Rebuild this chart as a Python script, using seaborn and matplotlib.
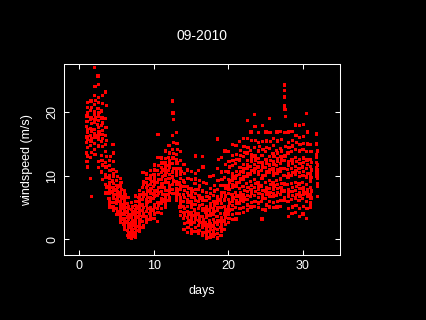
import numpy as np
import pandas as pd
import matplotlib
matplotlib.use("Agg")
import matplotlib.pyplot as plt
import seaborn as sns

title = "09-2010"
x_label = "days"
y_label = "windspeed (m/s)"
x_ticks = [0, 10, 20, 30]
y_ticks = [0, 10, 20]

# start of each measurement burst (days), samples inside a burst are 15 min apart
burst_day = list(np.arange(1.0, 31.5, 0.5)) + [31.85]

# wind speed (m/s), one list per burst
burst_speeds = [
    [15.2, 17.8, 13.6, 19.4, 16.1, 12.3, 18.5, 20.7, 14.4, 16.9, 11.4, 21.6, 17.2, 15.7, 19.9, 13.1],  # 1.0
    [16.4, 18.9, 14.8, 20.3, 17.5, 12.9, 9.6, 21.8, 15.5, 19.1, 13.7, 17.0, 6.7, 18.2, 15.9, 20.8],
    [17.3, 19.6, 15.1, 21.2, 27.0, 18.4, 14.2, 22.7, 16.6, 20.1, 24.1, 13.4, 18.9, 16.0, 21.9, 19.2],  # 2.0
    [18.1, 20.6, 16.3, 25.7, 14.7, 21.5, 17.6, 24.4, 12.2, 19.4, 15.8, 22.3, 11.3, 18.7, 20.0, 16.9],
    [15.4, 17.9, 13.2, 20.2, 10.6, 16.5, 19.1, 12.4, 21.4, 14.6, 9.4, 18.3, 15.9, 11.7, 17.1, 22.6],  # 3.0
    [13.8, 10.2, 16.4, 8.6, 19.0, 12.1, 23.2, 14.9, 7.3, 11.4, 17.6, 9.7, 21.1, 13.0, 15.6, 8.1],
    [8.3, 6.4, 10.1, 7.2, 11.6, 5.5, 9.0, 12.4, 7.8, 6.0, 9.6, 8.7, 10.8, 5.1, 7.5, 13.0],  # 4.0
    [7.4, 9.2, 5.8, 11.0, 8.1, 14.9, 6.5, 10.4, 4.6, 12.3, 8.8, 7.0, 9.9, 5.2, 13.6, 7.7],
    [6.2, 7.9, 4.8, 9.3, 5.6, 10.7, 7.1, 3.9, 8.5, 6.7, 9.9, 4.3, 7.5, 5.9, 8.2, 6.4],  # 5.0
    [5.1, 6.8, 3.7, 8.4, 4.5, 9.6, 6.0, 2.6, 7.3, 5.5, 3.2, 8.9, 4.1, 6.5, 7.8, 4.8],
    [3.9, 5.4, 2.4, 6.7, 4.6, 1.6, 7.6, 3.3, 5.9, 2.0, 4.2, 6.3, 3.0, 5.0, 7.1, 2.7],  # 6.0
    [2.8, 4.3, 1.4, 5.6, 3.5, 0.6, 6.6, 2.1, 4.9, 1.0, 3.1, 5.2, 0.3, 2.5, 3.9, 1.8],
    [1.9, 3.4, 0.8, 4.7, 2.6, 0.2, 5.8, 1.3, 3.9, 0.5, 2.2, 4.3, 1.6, 3.0, 5.1, 0.9],  # 7.0
    [2.5, 4.0, 1.1, 5.3, 3.2, 0.3, 6.8, 1.7, 4.6, 0.7, 2.9, 5.9, 2.0, 3.6, 1.4, 4.9],
    [3.4, 5.1, 2.0, 6.6, 4.2, 1.2, 7.7, 2.7, 5.7, 1.6, 3.8, 6.2, 2.4, 4.7, 7.1, 3.1],  # 8.0
    [4.5, 6.3, 2.8, 8.2, 5.4, 1.8, 10.5, 3.6, 7.3, 2.2, 5.0, 9.1, 3.9, 6.8, 8.7, 4.1],
    [5.3, 7.1, 3.6, 9.0, 6.2, 2.7, 10.3, 4.4, 8.1, 3.1, 5.8, 9.6, 4.8, 7.6, 6.6, 8.5],  # 9.0
    [5.9, 7.7, 4.1, 9.5, 6.6, 3.2, 10.8, 5.0, 8.6, 3.6, 6.3, 10.1, 4.6, 8.0, 7.2, 9.1],
    [6.4, 8.3, 4.6, 10.2, 7.1, 3.3, 11.7, 5.5, 9.3, 4.0, 6.8, 10.9, 5.1, 8.7, 7.6, 9.8],  # 10.0
    [6.9, 8.9, 4.9, 10.8, 7.6, 2.8, 12.9, 5.8, 16.5, 4.2, 7.3, 11.6, 5.4, 9.4, 8.1, 10.2],
    [7.5, 9.4, 5.6, 11.3, 8.2, 4.1, 12.8, 6.4, 10.5, 4.9, 8.7, 12.0, 6.0, 9.9, 7.1, 10.9],  # 11.0
    [8.1, 10.0, 6.2, 12.0, 8.9, 5.1, 13.9, 7.0, 11.2, 5.6, 9.4, 12.7, 6.6, 10.6, 7.7, 11.6],
    [8.9, 10.8, 7.0, 12.9, 9.6, 6.1, 14.8, 7.8, 11.9, 6.5, 10.2, 13.6, 7.4, 11.4, 8.4, 12.4],  # 12.0
    [9.8, 11.9, 7.9, 14.2, 10.6, 21.8, 16.3, 8.6, 19.9, 7.2, 12.8, 18.9, 9.2, 13.5, 15.2, 11.1],
    [9.1, 11.2, 7.2, 13.4, 10.0, 6.2, 16.8, 8.0, 12.5, 6.7, 10.6, 15.1, 7.6, 12.0, 8.6, 14.2],  # 13.0
    [7.0, 9.0, 5.1, 11.1, 7.9, 3.7, 13.8, 6.0, 10.2, 4.4, 8.4, 12.4, 5.6, 9.6, 6.5, 10.7],
    [5.2, 7.1, 3.3, 9.2, 6.0, 1.6, 11.8, 4.2, 8.3, 2.5, 6.6, 10.4, 3.8, 7.7, 4.8, 8.9],  # 14.0
    [4.4, 6.3, 2.6, 8.3, 5.2, 1.1, 10.9, 3.4, 7.4, 1.8, 5.8, 9.6, 3.0, 6.9, 4.0, 8.0],
    [4.2, 6.0, 2.4, 8.0, 5.0, 1.0, 10.7, 3.2, 7.1, 1.6, 5.5, 9.4, 2.8, 6.6, 3.8, 7.6],  # 15.0
    [4.6, 6.6, 2.7, 8.8, 5.5, 1.2, 13.1, 3.5, 7.8, 1.9, 6.1, 10.4, 3.1, 7.2, 4.1, 9.5],
    [4.0, 5.9, 2.2, 7.9, 4.8, 0.9, 10.8, 3.0, 6.9, 1.4, 5.3, 9.3, 2.6, 6.4, 3.5, 8.4],  # 16.0
    [3.6, 5.5, 1.8, 7.6, 4.5, 0.6, 13.0, 2.6, 6.6, 1.1, 4.9, 11.4, 2.2, 6.1, 3.1, 9.0],
    [2.7, 4.3, 1.1, 6.1, 3.4, 0.2, 8.8, 1.8, 5.2, 0.6, 3.8, 7.4, 1.4, 4.8, 2.3, 6.7],  # 17.0
    [2.9, 4.6, 1.2, 6.5, 3.7, 0.3, 9.9, 2.0, 5.6, 0.7, 4.1, 8.0, 1.6, 5.1, 2.5, 7.2],
    [3.1, 4.9, 1.3, 6.9, 3.9, 0.4, 10.1, 2.1, 5.9, 0.8, 4.4, 8.5, 1.7, 5.4, 2.6, 7.6],  # 18.0
    [3.6, 5.6, 1.5, 7.8, 4.5, 0.2, 15.8, 2.4, 6.7, 0.9, 5.0, 11.2, 9.3, 6.2, 2.9, 12.6],
    [4.1, 6.2, 1.9, 8.5, 5.0, 0.6, 12.9, 2.9, 7.3, 1.3, 5.6, 10.6, 2.4, 6.8, 3.4, 9.4],  # 19.0
    [5.2, 7.4, 2.9, 9.7, 6.2, 1.6, 13.9, 4.0, 8.5, 2.3, 6.8, 11.8, 3.5, 8.0, 4.6, 10.7],
    [6.3, 8.4, 4.0, 10.6, 7.2, 2.6, 13.8, 5.1, 9.4, 3.3, 7.8, 12.3, 4.6, 8.9, 5.7, 11.4],  # 20.0
    [7.1, 9.3, 4.7, 11.6, 8.1, 3.1, 14.9, 5.9, 10.4, 3.9, 8.6, 13.2, 5.3, 9.8, 6.5, 12.4],
    [7.4, 9.6, 5.0, 11.9, 8.4, 3.2, 14.8, 6.1, 10.7, 4.1, 8.9, 13.4, 5.6, 10.1, 6.8, 12.6],  # 21.0
    [8.0, 10.2, 5.7, 12.5, 9.0, 4.1, 15.4, 6.8, 11.3, 4.8, 9.5, 14.0, 6.2, 10.7, 7.4, 13.2],
    [8.3, 10.6, 5.9, 13.0, 9.4, 4.2, 15.9, 7.1, 11.8, 5.0, 9.9, 14.6, 6.5, 11.2, 7.7, 13.7],  # 22.0
    [8.8, 11.1, 6.3, 13.6, 9.9, 4.6, 18.7, 7.5, 12.4, 5.4, 10.4, 15.9, 6.9, 11.7, 8.1, 14.5],
    [9.1, 11.5, 6.7, 14.0, 10.3, 5.1, 16.9, 7.9, 12.8, 5.8, 10.8, 15.6, 7.3, 12.2, 8.5, 13.3],  # 23.0
    [9.4, 11.8, 6.9, 14.4, 10.6, 5.2, 19.6, 8.2, 13.1, 6.0, 11.2, 17.8, 7.5, 12.5, 8.8, 15.6],
    [9.0, 11.4, 6.6, 13.9, 10.2, 5.0, 16.8, 7.8, 12.7, 5.7, 10.7, 15.3, 7.2, 12.1, 8.4, 14.6],  # 24.0
    [8.4, 10.8, 5.9, 13.2, 9.6, 3.2, 17.9, 7.1, 12.0, 4.7, 10.1, 15.4, 6.5, 11.4, 7.7, 14.1],
    [8.9, 11.3, 6.4, 13.8, 10.1, 4.6, 16.9, 7.6, 12.6, 5.4, 10.6, 15.5, 7.0, 12.0, 8.2, 14.5],  # 25.0
    [9.3, 11.7, 6.8, 14.3, 10.5, 5.1, 19.0, 8.0, 13.0, 5.9, 11.0, 16.8, 7.4, 12.4, 8.6, 15.4],
    [9.0, 11.2, 6.7, 13.5, 10.1, 5.0, 15.9, 7.8, 12.3, 5.8, 10.6, 14.8, 7.2, 11.8, 8.4, 13.0],  # 26.0
    [9.3, 11.6, 6.9, 14.0, 10.4, 5.1, 16.9, 8.0, 12.7, 5.9, 10.9, 15.5, 7.4, 12.2, 8.6, 13.6],
    [9.5, 11.9, 7.1, 14.3, 10.7, 5.2, 17.0, 8.2, 13.0, 6.1, 11.2, 15.7, 7.6, 12.5, 8.8, 13.9],  # 27.0
    [10.0, 12.4, 7.6, 24.3, 11.2, 6.1, 23.4, 8.7, 22.4, 6.6, 21.0, 16.8, 20.5, 13.1, 19.3, 14.6],
    [8.6, 11.0, 6.0, 13.6, 9.8, 3.6, 16.9, 7.3, 12.3, 4.8, 10.3, 15.3, 6.7, 11.7, 7.9, 14.4],  # 28.0
    [8.8, 11.2, 6.3, 13.8, 10.0, 4.1, 17.0, 7.5, 12.5, 5.1, 10.5, 15.6, 6.9, 11.9, 8.1, 14.7],
    [9.0, 11.5, 6.5, 14.2, 10.3, 4.2, 18.0, 7.7, 12.9, 5.3, 10.8, 16.3, 7.1, 12.2, 8.3, 15.2],  # 29.0
    [8.7, 11.2, 6.1, 13.9, 9.9, 3.6, 17.9, 7.4, 12.6, 4.9, 10.5, 16.0, 6.8, 11.9, 8.0, 14.9],
    [8.9, 11.4, 6.4, 14.1, 10.1, 4.0, 18.1, 7.6, 12.8, 5.2, 10.7, 16.2, 7.0, 12.1, 8.2, 15.1],  # 30.0
    [8.6, 11.1, 6.0, 13.8, 9.8, 3.3, 19.8, 7.3, 12.5, 4.8, 10.4, 16.9, 6.7, 11.8, 7.9, 15.0],
    [8.1, 10.3, 5.8, 12.6, 9.2, 5.0, 14.9, 7.0, 11.5, 5.4, 9.7, 13.8, 6.5, 10.9, 7.6, 12.1],  # 31.0
    [16.6, 15.0, 13.4, 12.9, 12.1, 11.3, 10.9, 10.4, 9.9, 9.6, 8.8, 8.4, 6.7, 11.7, 10.1, 13.9],
]

rows = []
for start, speeds in zip(burst_day, burst_speeds):
    for k, v in enumerate(speeds):
        rows.append((start + k / 96.0, v))
df = pd.DataFrame(rows, columns=["days", "windspeed"])

sns.set_theme(style="ticks")
plt.rcParams["font.family"] = ["Liberation Sans", "DejaVu Sans"]

fig = plt.figure(figsize=(4.26, 3.2), dpi=100, facecolor="black")
ax = fig.add_axes([64.3 / 426, 1 - 255.3 / 320, 276 / 426, 191 / 320])
ax.set_facecolor("black")

sns.scatterplot(data=df, x="days", y="windspeed", color="#ff0000", marker="s",
                s=5.5, linewidth=0, edgecolor="none", legend=False, ax=ax)

ax.set_xlim(-2.0, 35.05)
ax.set_ylim(-2.52, 27.56)
ax.set_xticks(x_ticks)
ax.set_yticks(y_ticks)
ax.set_xlabel("")
ax.set_ylabel("")
for sp in ax.spines.values():
    sp.set_visible(True)
    sp.set_color("white")
    sp.set_linewidth(0.75)
ax.tick_params(direction="in", length=3.6, width=0.75, color="white",
               labelcolor="white", labelsize=9, top=True, right=True, pad=3.6)
ax.tick_params(axis="y", pad=4.5)
plt.setp(ax.get_yticklabels(), rotation=90, va="center")

fig.text(202.3 / 426, 1 - 36 / 320, title, color="white", fontsize=10, ha="center", va="center")
fig.text(202.3 / 426, 1 - 290.7 / 320, x_label, color="white", fontsize=9, ha="center", va="center")
fig.text(27 / 426, 1 - 159.8 / 320, y_label, color="white", fontsize=9, rotation=90,
         ha="center", va="center")

fig.savefig("out.png", dpi=100, facecolor="black")
